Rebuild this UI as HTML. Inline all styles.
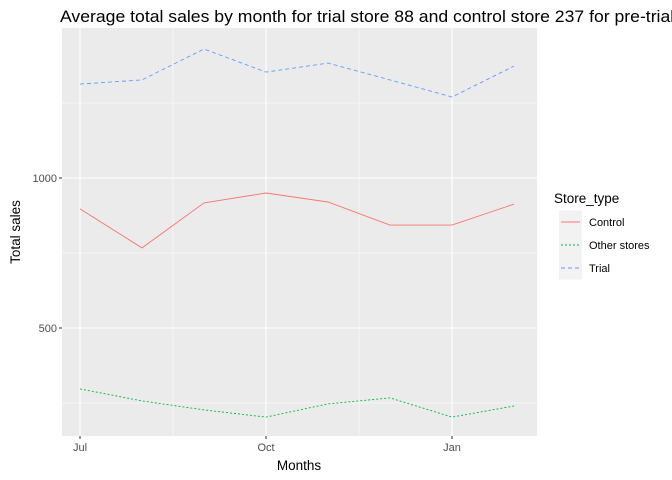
<!DOCTYPE html>
<html><head><meta charset="utf-8"><style>
body{margin:0;background:#fff;overflow:hidden;}
svg{display:block;font-family:"Liberation Sans",sans-serif;}
</style></head><body>
<svg id="chart" width="672" height="480" xmlns="http://www.w3.org/2000/svg"></svg>
<script>
const months = ["Jul","Aug","Sep","Oct","Nov","Dec","Jan","Feb"];
const trialSales = [1313,1327,1430,1353,1383,1327,1270,1373];
const controlSales = [897,767,917,950,920,843,843,913];
const otherSales = [297,257,227,203,247,267,203,240];
const yTicks = [500,1000];
const xTickLabels = ["Jul","Oct","Jan"];

const svg = document.getElementById('chart');
const NS = "http://www.w3.org/2000/svg";
const P = {l:62,r:537,t:28,b:436};
function x(i){return 80 + i*62;}
function y(v){return 178 - (v-1000)*0.3;}
function mk(tag, attrs, parent){
  const e=document.createElementNS(NS,tag);
  for(const k in attrs) e.setAttribute(k,attrs[k]);
  (parent||svg).appendChild(e); return e;
}
const panel = mk('rect',{x:P.l,y:P.t,width:P.r-P.l,height:P.b-P.t,fill:'#ebebeb'});


[250,750,1250].forEach(v=>{
  const g=mk('line',{x1:P.l,x2:P.r,y1:y(v),y2:y(v),stroke:'#fff','stroke-width':0.5});
  
  
});
[1.5,4.5].forEach(i=>{
  const g=mk('line',{x1:x(i),x2:x(i),y1:P.t,y2:P.b,stroke:'#fff','stroke-width':0.5});
  
  
});
yTicks.forEach(v=>{
  const g=mk('line',{x1:P.l,x2:P.r,y1:y(v),y2:y(v),stroke:'#fff','stroke-width':1.1});
  
  
  mk('line',{x1:P.l-3,x2:P.l,y1:y(v),y2:y(v),stroke:'#333','stroke-width':1});
  const t=mk('text',{x:P.l-5,y:y(v)+4,'text-anchor':'end','font-size':11,fill:'#4d4d4d'});
  t.textContent=v;
  
  
});
xTickLabels.forEach(lbl=>{
  const i=months.indexOf(lbl);
  const g=mk('line',{x1:x(i),x2:x(i),y1:P.t,y2:P.b,stroke:'#fff','stroke-width':1.1});
  
  
  mk('line',{x1:x(i),x2:x(i),y1:P.b,y2:P.b+3,stroke:'#333','stroke-width':1});
  const t=mk('text',{x:x(i),y:P.b+15,'text-anchor':'middle','font-size':11,fill:'#4d4d4d'});
  t.textContent=lbl;
  
  
});
function series(vals,color,dash,name){
  const pts=vals.map((v,i)=>x(i)+','+y(v)).join(' ');
  const l=mk('polyline',{points:pts,fill:'none',stroke:color,'stroke-width':0.9,'stroke-dasharray':dash});
  
  
}
series(trialSales,'#619cff','4,3','trial-line');
series(controlSales,'#f8766d','none','control-line');
series(otherSales,'#00ba38','2,2','other-stores-line');
let t=mk('text',{x:60,y:22,'font-size':16.5,fill:'#000',textLength:668,lengthAdjust:'spacingAndGlyphs'});
t.textContent='Average total sales by month for trial store 88 and control store 237 for pre-trial period';


t=mk('text',{x:299,y:470,'text-anchor':'middle','font-size':13.5,fill:'#000'});
t.textContent='Months';


t=mk('text',{x:20,y:232,'text-anchor':'middle','font-size':13.5,fill:'#000',transform:'rotate(-90 20 232)'});
t.textContent='Total sales';


t=mk('text',{x:554,y:203,'font-size':13.5,fill:'#000'});
t.textContent='Store_type';


const legend=[["Control",'#f8766d','none'],["Other stores",'#00ba38','2,2'],["Trial",'#619cff','4,3']];
legend.forEach((d,k)=>{
  const cy=222+k*23;
  const r=mk('rect',{x:559,y:cy-11.5,width:23,height:23,fill:'#f2f2f2'});
  
  
  mk('line',{x1:561,x2:580,y1:cy,y2:cy,stroke:d[1],'stroke-width':0.9,'stroke-dasharray':d[2]});
  const tx=mk('text',{x:589,y:cy+4,'font-size':11,fill:'#000'});
  tx.textContent=d[0];
  
  
});
</script>
</body></html>
